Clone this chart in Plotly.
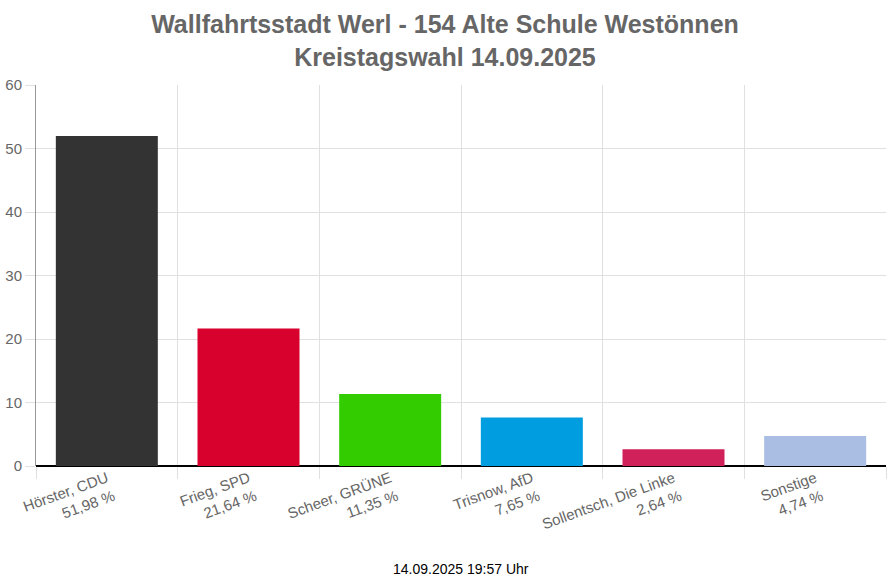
import plotly.graph_objects as go

kandidaten = ["Hörster, CDU", "Frieg, SPD", "Scheer, GRÜNE", "Trisnow, AfD",
              "Sollentsch, Die Linke", "Sonstige"]
prozent = [51.98, 21.64, 11.35, 7.65, 2.64, 4.74]
farben = ["#333333", "#d8002c", "#33cc00", "#009ee0", "#d0215a", "#aabde3"]

labels = [f"{k}<br>{p:.2f} %".replace(".", ",") for k, p in zip(kandidaten, prozent)]

fig = go.Figure(go.Bar(x=labels, y=prozent, marker_color=farben, marker_line_width=0,
                       width=0.72, hoverinfo="y"))

fig.update_layout(
    width=890, height=585,
    paper_bgcolor="white", plot_bgcolor="white",
    font=dict(family="Liberation Sans, Arial", color="#666666"),
    title=dict(text="<b>Wallfahrtsstadt Werl - 154 Alte Schule Westönnen<br>Kreistagswahl 14.09.2025</b>",
               x=0.5, xanchor="center", xref="container", y=1 - 33 / 585, yref="container",
               yanchor="middle",
               font=dict(size=25, color="#666666", family="Liberation Sans, Arial")),
    margin=dict(l=36, r=4, t=85, b=119, autoexpand=False),
    showlegend=False,
    annotations=[dict(text="14.09.2025 19:57 Uhr", x=0.5, xref="paper", y=0, yref="paper",
                      yshift=-103, yanchor="middle", xanchor="center", showarrow=False,
                      font=dict(size=14, color="#000000"))],
)
fig.update_xaxes(
    tickson="boundaries", showgrid=True, gridcolor="#e0e0e0", gridwidth=1,
    ticks="outside", ticklen=12, tickcolor="#e0e0e0", tickangle=-20,
    tickfont=dict(size=15, color="#666666"), showline=False, fixedrange=True,
    automargin=False,
)
fig.update_yaxes(
    range=[0, 60], dtick=10, showgrid=True, gridcolor="#e0e0e0",
    ticks="outside", ticklen=10, tickcolor="#e0e0e0",
    tickfont=dict(size=15, color="#666666"), automargin=False,
    showline=True, linecolor="#999999", linewidth=1,
    zeroline=True, zerolinecolor="#000000", zerolinewidth=1.5,
)

# Seitenrand des Browsers entfernen, damit die Grafik bei (0,0) beginnt
fig.write_html("out.html", config={"displayModeBar": False},
               post_script="document.body.style.margin='0';")
